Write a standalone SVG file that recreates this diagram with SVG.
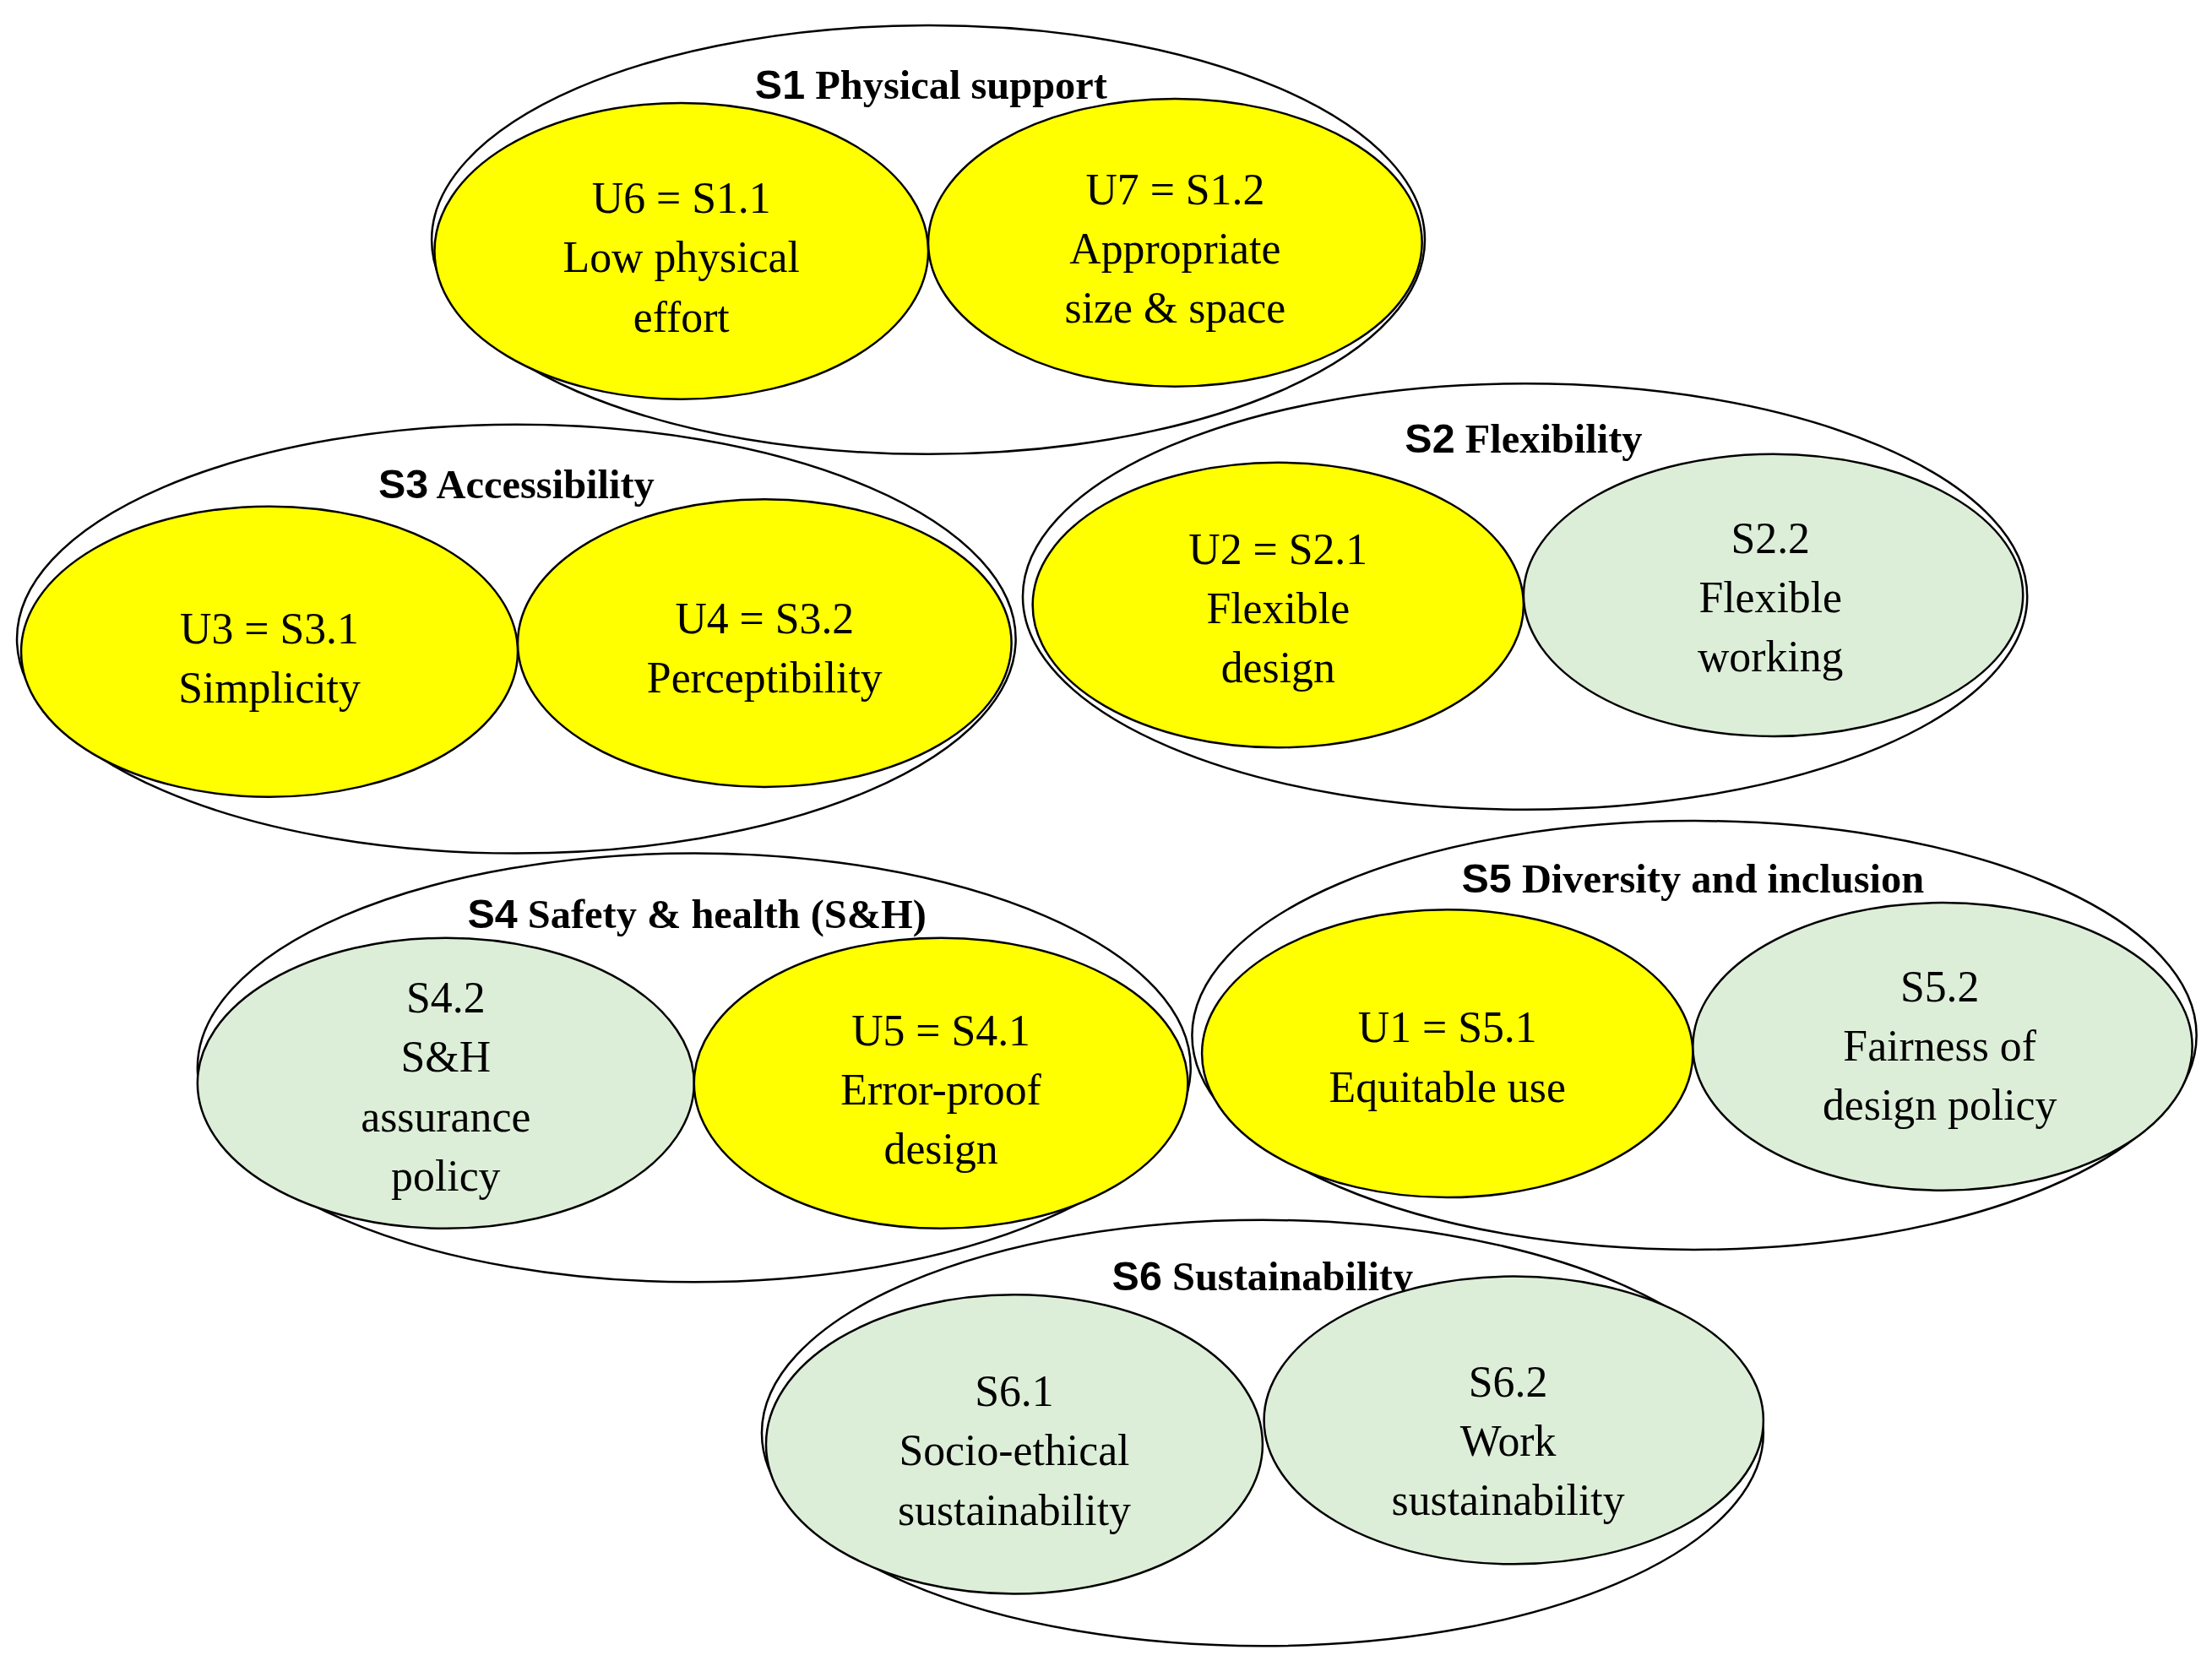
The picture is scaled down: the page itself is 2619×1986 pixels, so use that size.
<svg xmlns="http://www.w3.org/2000/svg" width="2619" height="1986" viewBox="0 0 2619 1986">
<style>
.o{fill:none;stroke:#000;stroke-width:1.5}
.y{fill:#FFFF00;stroke:#000;stroke-width:1.5}
.g{fill:#DDEED8;stroke:#000;stroke-width:1.5}
.t{font-family:"Liberation Serif",serif;font-size:31px;text-anchor:middle;fill:#000}
.h{font-family:"Liberation Serif",serif;font-size:29px;font-weight:bold;text-anchor:middle;fill:#000}
.s{font-family:"Liberation Sans",sans-serif}
</style>
<rect width="2619" height="1986" fill="#fff"/>
<g transform="scale(1.6703)">
<g id="connectors"></g>
<g id="S1">
<ellipse class="o" cx="658" cy="170" rx="352" ry="152"/>
<text class="h" x="660" y="70"><tspan class="s">S1</tspan> Physical support</text>
</g>
<g id="S1.1"><ellipse class="y" cx="483" cy="178" rx="175" ry="105"/>
<text class="t" x="483" y="151">U6 = S1.1</text><text class="t" x="483" y="193">Low physical</text><text class="t" x="483" y="235">effort</text></g>
<g id="S1.2"><ellipse class="y" cx="833" cy="172" rx="175" ry="102"/>
<text class="t" x="833" y="145">U7 = S1.2</text><text class="t" x="833" y="187">Appropriate</text><text class="t" x="833" y="229">size &amp; space</text></g>
<g id="S3">
<ellipse class="o" cx="366" cy="453" rx="354" ry="152"/>
<text class="h" x="366" y="353"><tspan class="s">S3</tspan> Accessibility</text>
</g>
<g id="S3.1"><ellipse class="y" cx="191" cy="462" rx="176" ry="103"/>
<text class="t" x="191" y="456">U3 = S3.1</text><text class="t" x="191" y="498">Simplicity</text></g>
<g id="S3.2"><ellipse class="y" cx="542" cy="456" rx="175" ry="102"/>
<text class="t" x="542" y="449">U4 = S3.2</text><text class="t" x="542" y="491">Perceptibility</text></g>
<g id="S2">
<ellipse class="o" cx="1081" cy="423" rx="356" ry="151"/>
<text class="h" x="1080" y="321"><tspan class="s">S2</tspan> Flexibility</text>
</g>
<g id="S2.1"><ellipse class="y" cx="906" cy="429" rx="174" ry="101"/>
<text class="t" x="906" y="400">U2 = S2.1</text><text class="t" x="906" y="442">Flexible</text><text class="t" x="906" y="484">design</text></g>
<g id="S2.2"><ellipse class="g" cx="1257" cy="422" rx="177" ry="100"/>
<text class="t" x="1255" y="392">S2.2</text><text class="t" x="1255" y="434">Flexible</text><text class="t" x="1255" y="476">working</text></g>
<g id="S4">
<ellipse class="o" cx="492" cy="757" rx="352" ry="152"/>
<text class="h" x="494" y="658"><tspan class="s">S4</tspan> Safety &amp; health (S&amp;H)</text>
</g>
<g id="S4.2"><ellipse class="g" cx="316" cy="768" rx="176" ry="103"/>
<text class="t" x="316" y="718">S4.2</text><text class="t" x="316" y="760">S&amp;H</text><text class="t" x="316" y="802">assurance</text><text class="t" x="316" y="844">policy</text></g>
<g id="S4.1"><ellipse class="y" cx="667" cy="768" rx="175" ry="103"/>
<text class="t" x="667" y="741">U5 = S4.1</text><text class="t" x="667" y="783">Error-proof</text><text class="t" x="667" y="825">design</text></g>
<g id="S5">
<ellipse class="o" cx="1201" cy="734" rx="356" ry="152"/>
<text class="h" x="1200" y="633"><tspan class="s">S5</tspan> Diversity and inclusion</text>
</g>
<g id="S5.1"><ellipse class="y" cx="1026" cy="747" rx="174" ry="102"/>
<text class="t" x="1026" y="739">U1 = S5.1</text><text class="t" x="1026" y="781">Equitable use</text></g>
<g id="S5.2"><ellipse class="g" cx="1377" cy="742" rx="177" ry="102"/>
<text class="t" x="1375" y="710">S5.2</text><text class="t" x="1375" y="752">Fairness of</text><text class="t" x="1375" y="794">design policy</text></g>
<g id="S6">
<ellipse class="o" cx="895" cy="1016" rx="355" ry="151"/>
<text class="h" x="895" y="915"><tspan class="s">S6</tspan> Sustainability</text>
</g>
<g id="S6.1"><ellipse class="g" cx="719" cy="1024" rx="176" ry="106"/>
<text class="t" x="719" y="997">S6.1</text><text class="t" x="719" y="1039">Socio-ethical</text><text class="t" x="719" y="1081">sustainability</text></g>
<g id="S6.2"><ellipse class="g" cx="1073" cy="1007" rx="177" ry="102"/>
<text class="t" x="1069" y="990">S6.2</text><text class="t" x="1069" y="1032">Work</text><text class="t" x="1069" y="1074">sustainability</text></g>
</g>
</svg>
